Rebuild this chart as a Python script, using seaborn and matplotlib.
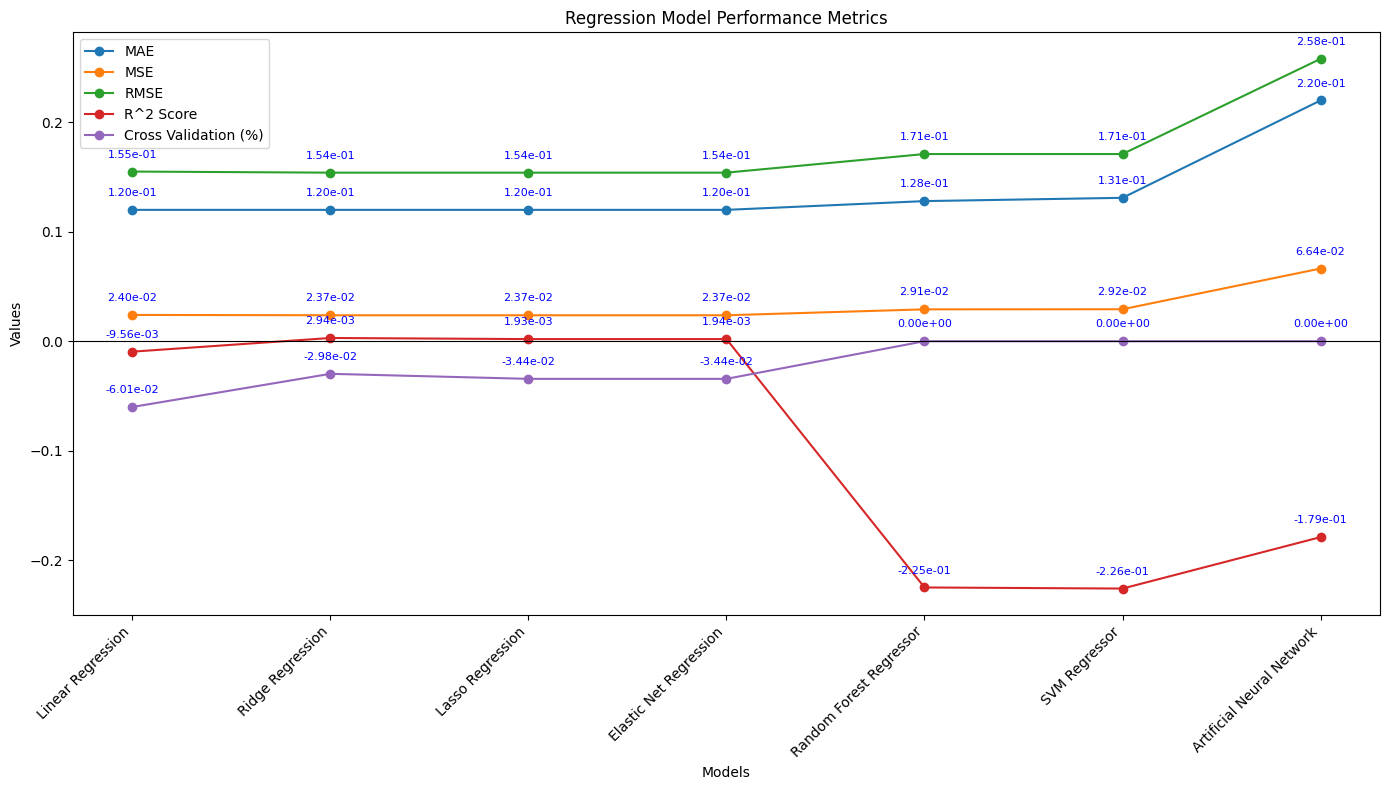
import pandas as pd
import matplotlib
matplotlib.use("Agg")
import matplotlib.pyplot as plt
import seaborn as sns

# Datos
modelos = [
    "Linear Regression",
    "Ridge Regression",
    "Lasso Regression",
    "Elastic Net Regression",
    "Random Forest Regressor",
    "SVM Regressor",
    "Artificial Neural Network",
]
mae = [0.120, 0.120, 0.120, 0.120, 0.128, 0.131, 0.220]
mse = [0.0240, 0.0237, 0.0237, 0.0237, 0.0291, 0.0292, 0.0664]
rmse = [0.155, 0.154, 0.154, 0.154, 0.171, 0.171, 0.258]
r2 = [-0.00956, 0.00294, 0.00193, 0.00194, -0.225, -0.226, -0.179]
cv = [-0.0601, -0.0298, -0.0344, -0.0344, 0.0, 0.0, 0.0]

metricas = {
    "MAE": mae,
    "MSE": mse,
    "RMSE": rmse,
    "R^2 Score": r2,
    "Cross Validation (%)": cv,
}
colores = ["#1f77b4", "#ff7f0e", "#2ca02c", "#d62728", "#9467bd"]

filas = []
for nombre, valores in metricas.items():
    for m, v in zip(modelos, valores):
        filas.append({"Model": m, "Metric": nombre, "Value": v})
df = pd.DataFrame(filas)

fig, ax = plt.subplots(figsize=(14, 8), dpi=100)

for (nombre, valores), color in zip(metricas.items(), colores):
    sub = df[df["Metric"] == nombre]
    sns.lineplot(
        data=sub, x="Model", y="Value", ax=ax, color=color, label=nombre,
        marker="o", markersize=6, markeredgecolor=color, markeredgewidth=1,
        sort=False,
    )
    for i, v in enumerate(valores):
        ax.annotate(f"{v:.2e}", (i, v), textcoords="offset points",
                    xytext=(0, 10), ha="center", fontsize=8, color="blue")

ax.axhline(0, color="black", linewidth=0.8)
ax.set_title("Regression Model Performance Metrics")
ax.set_xlabel("Models")
ax.set_ylabel("Values")
plt.xticks(rotation=45, ha="right")
ax.legend(loc="upper left")
plt.tight_layout()
plt.savefig("out.png", bbox_inches="tight")
